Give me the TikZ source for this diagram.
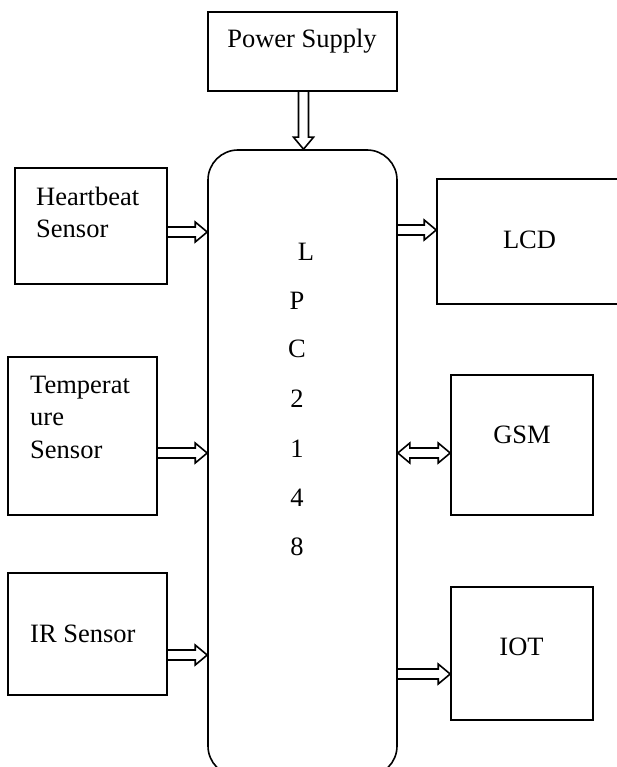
\documentclass[tikz,border=0pt]{standalone}
\usepackage{fontspec}
\setmainfont{Liberation Serif}
\usetikzlibrary{calc}
\tikzset{
  box/.style={draw, line width=1.6pt, rectangle, inner sep=0pt},
  txt/.style={inner sep=0pt, font=\fontsize{26.5}{33}\selectfont},
  arrowline/.style={line width=1.6pt, line join=miter},
}
% block arrow with a single head at #2
\newcommand{\blkarrow}[2]{%
  \coordinate (bah) at ($(#2)!12pt!(#1)$);
  \draw[arrowline] ($(#1)!5pt!90:(#2)$) -- ($(bah)!5pt!90:(#2)$)
    -- ($(bah)!10pt!90:(#2)$) -- (#2) -- ($(bah)!10pt!-90:(#2)$)
    -- ($(bah)!5pt!-90:(#2)$) -- ($(#1)!5pt!-90:(#2)$);
}
% block arrow with heads at both ends
\newcommand{\blkdarrow}[2]{%
  \coordinate (bah) at ($(#2)!12pt!(#1)$);
  \coordinate (bat) at ($(#1)!12pt!(#2)$);
  \draw[arrowline] (#1) -- ($(bat)!10pt!-90:(#1)$) -- ($(bat)!5pt!-90:(#1)$)
    -- ($(bah)!5pt!90:(#2)$) -- ($(bah)!10pt!90:(#2)$) -- (#2)
    -- ($(bah)!10pt!-90:(#2)$) -- ($(bah)!5pt!-90:(#2)$)
    -- ($(bat)!5pt!90:(#1)$) -- ($(bat)!10pt!90:(#1)$) -- cycle;
}
\begin{document}
\begin{tikzpicture}[x=1pt, y=-1pt]
\useasboundingbox (0,0) rectangle (617,767);
% boxes
\node[box, minimum width=189pt, minimum height=79pt] (ps) at (302.5,51.5) {};
\node[box, rounded corners=30pt, minimum width=189pt, minimum height=626pt] (main) at (302.5,463) {};
\node[box, minimum width=152pt, minimum height=116pt] (hb) at (91,226) {};
\node[box, minimum width=203pt, minimum height=125pt] (lcd) at (538.5,241.5) {};
\node[box, minimum width=149pt, minimum height=158pt] (temp) at (82.5,436) {};
\node[box, minimum width=142pt, minimum height=140pt] (gsm) at (522,445) {};
\node[box, minimum width=159pt, minimum height=122pt] (ir) at (87.5,634) {};
\node[box, minimum width=142pt, minimum height=133pt] (iot) at (522,653.5) {};
% texts
\node[txt, anchor=base] (tps) at (302,48) {Power Supply};
\node[txt, anchor=base west] (thb1) at (36,205) {Heartbeat};
\node[txt, anchor=base west] (thb2) at (36,237) {Sensor};
\node[txt, anchor=base] (tlcd) at (529.5,248) {LCD};
\node[txt, anchor=base west] (tt1) at (30,393) {Temperat};
\node[txt, anchor=base west] (tt2) at (30,425) {ure};
\node[txt, anchor=base west] (tt3) at (30,458) {Sensor};
\node[txt, anchor=base] (tgsm) at (522,443) {GSM};
\node[txt, anchor=base west] (tir) at (30,642) {IR Sensor};
\node[txt, anchor=base] (tiot) at (521.5,655) {IOT};
\node[txt, anchor=base] (l1) at (306,260) {L};
\node[txt, anchor=base] (l2) at (297,309) {P};
\node[txt, anchor=base] (l3) at (297,357) {C};
\node[txt, anchor=base] (l4) at (297,407) {2};
\node[txt, anchor=base] (l5) at (297,457) {1};
\node[txt, anchor=base] (l6) at (297,506) {4};
\node[txt, anchor=base] (l7) at (297,555) {8};
% arrow end points
\coordinate (p1s) at ($(ps.south)+(1,0)$);
\coordinate (p1e) at (p1s |- main.north);
\coordinate (a1s) at ($(hb.east)+(0,6)$);
\coordinate (a1e) at (a1s -| main.west);
\coordinate (a2e) at ($(lcd.west)+(0,-11.5)$);
\coordinate (a2s) at (a2e -| main.east);
\coordinate (a3s) at ($(temp.east)+(0,17)$);
\coordinate (a3e) at (a3s -| main.west);
\coordinate (a4e) at ($(gsm.west)+(0,8)$);
\coordinate (a4s) at (a4e -| main.east);
\coordinate (a5s) at ($(ir.east)+(0,21)$);
\coordinate (a5e) at (a5s -| main.west);
\coordinate (a6e) at ($(iot.west)+(0,20.5)$);
\coordinate (a6s) at (a6e -| main.east);
% arrows
\blkarrow{p1s}{p1e}
\blkarrow{a1s}{a1e}
\blkarrow{a2s}{a2e}
\blkarrow{a3s}{a3e}
\blkdarrow{a4s}{a4e}
\blkarrow{a5s}{a5e}
\blkarrow{a6s}{a6e}
\end{tikzpicture}
\end{document}
